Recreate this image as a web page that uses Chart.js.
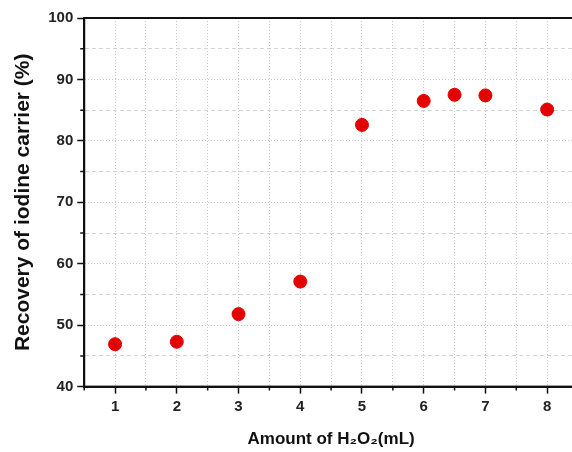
<!DOCTYPE html>
<html>
<head>
<meta charset="utf-8">
<script src="https://cdn.jsdelivr.net/npm/chart.js@4"></script>
<style>
  html, body { margin: 0; padding: 0; background: #fff; overflow: hidden; }
  #wrap { width: 600px; height: 452px; }
</style>
</head>
<body>
<div id="wrap"><canvas id="grafik" width="600" height="452"></canvas></div>
<script>
// data
const amounts = [1, 2, 3, 4, 5, 6, 6.5, 7, 8];
const recovery = [46.9, 47.3, 51.8, 57.1, 82.6, 86.5, 87.5, 87.4, 85.1];
const xRange = [0.5, 8.5];
const yRange = [40, 100];

const isWhole = v => Math.abs(v - Math.round(v)) < 1e-6;

// frame around the plot + short minor ticks
const frame = {
    id: "frame",
    afterDraw(chart) {
        const { ctx, chartArea: a, scales } = chart;
        ctx.save();
        ctx.strokeStyle = "#111";
        ctx.lineWidth = 2;
        ctx.strokeRect(a.left, a.top, a.right - a.left, a.bottom - a.top);
        ctx.lineWidth = 1.5;
        ctx.beginPath();
        scales.x.ticks.forEach(t => {
            if (isWhole(t.value)) return;
            const px = scales.x.getPixelForValue(t.value);
            ctx.moveTo(px, a.bottom);
            ctx.lineTo(px, a.bottom + 4);
        });
        scales.y.ticks.forEach(t => {
            if (t.value % 10 === 0) return;
            const py = scales.y.getPixelForValue(t.value);
            ctx.moveTo(a.left, py);
            ctx.lineTo(a.left - 4, py);
        });
        ctx.stroke();
        ctx.restore();
    }
};

const ctx = document.getElementById("grafik").getContext("2d");
new Chart(ctx, {
    type: "scatter",
    data: {
        datasets: [{
            data: amounts.map((x, i) => ({ x: x, y: recovery[i] })),
            backgroundColor: "#e50000",
            borderColor: "#e50000",
            pointRadius: 6.5,
            pointHoverRadius: 6.5
        }]
    },
    options: {
        responsive: false,
        animation: false,
        layout: { padding: { left: 11, top: 18, right: 22, bottom: 2 } },
        plugins: { legend: { display: false }, tooltip: { enabled: false } },
        scales: {
            x: {
                type: "linear",
                min: xRange[0],
                max: xRange[1],
                ticks: {
                    stepSize: 0.5,
                    autoSkip: false,
                    maxRotation: 0,
                    padding: 4,
                    color: "#222",
                    font: { family: "Liberation Sans", size: 15, weight: "bold" },
                    callback: v => isWhole(v) ? String(Math.round(v)) : ""
                },
                grid: {
                    color: c => (c.tick && (c.tick.value === xRange[0] || c.tick.value === xRange[1])) ? "rgba(0,0,0,0)" : "#c8c8c8",
                    lineWidth: 1,
                    tickLength: 7,
                    tickWidth: 1.5,
                    tickColor: c => (c.tick && isWhole(c.tick.value)) ? "#111" : "rgba(0,0,0,0)"
                },
                border: { display: true, color: "#111", width: 2, dash: c => c.tick ? [1, 2] : [] },
                title: {
                    display: true,
                    text: "Amount of H₂O₂(mL)",
                    color: "#111",
                    font: { family: "Liberation Sans", size: 17, weight: "bold" },
                    padding: { top: 10, bottom: 0 }
                }
            },
            y: {
                min: yRange[0],
                max: yRange[1],
                ticks: {
                    stepSize: 5,
                    autoSkip: false,
                    padding: 4,
                    color: "#222",
                    font: { family: "Liberation Sans", size: 15, weight: "bold" },
                    callback: v => v % 10 === 0 ? String(v) : ""
                },
                grid: {
                    color: c => (c.tick && (c.tick.value === yRange[0] || c.tick.value === yRange[1])) ? "rgba(0,0,0,0)" : (c.tick && c.tick.value % 10 !== 0 ? "#d4d4d4" : "#c8c8c8"),
                    lineWidth: 1,
                    tickLength: 7,
                    tickWidth: 1.5,
                    tickColor: c => (c.tick && c.tick.value % 10 === 0) ? "#111" : "rgba(0,0,0,0)"
                },
                border: { display: true, color: "#111", width: 2, dash: c => c.tick ? (c.tick.value % 10 === 0 ? [1, 2] : [4, 3]) : [] },
                title: {
                    display: true,
                    text: "Recovery of iodine carrier (%)",
                    color: "#111",
                    font: { family: "Liberation Sans", size: 21, weight: "bold" },
                    padding: { top: 0, bottom: 8 }
                }
            }
        }
    },
    plugins: [frame]
});
</script>
</body>
</html>
